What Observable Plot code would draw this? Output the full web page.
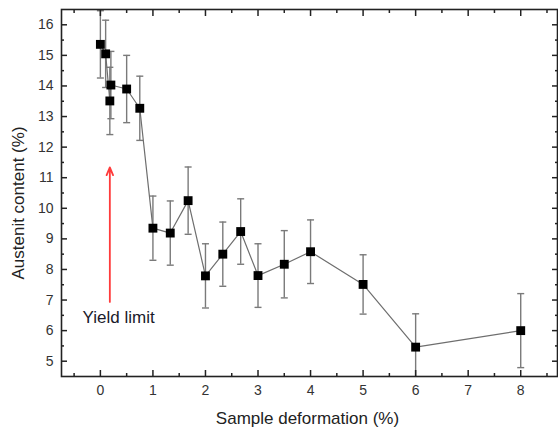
<!DOCTYPE html>
<html><head><meta charset="utf-8">
<script src="https://cdn.jsdelivr.net/npm/d3@7"></script>
<script src="https://cdn.jsdelivr.net/npm/@observablehq/plot@0.6"></script>
<style>body{margin:0;background:#fff}#chart{width:558px;height:430px}</style>
</head><body><div id="chart"></div>
<script>
const deformation = [0, 0.1, 0.18, 0.2, 0.5, 0.75, 1, 1.33, 1.67, 2, 2.33, 2.67, 3, 3.5, 4, 5, 6, 8];
const austenite   = [15.36, 15.05, 13.51, 14.03, 13.9, 13.27, 9.35, 9.19, 10.25, 7.79, 8.5, 9.24, 7.8, 8.17, 8.58, 7.51, 5.46, 6.0];
const errors      = [1.1, 1.1, 1.1, 1.1, 1.1, 1.05, 1.05, 1.05, 1.1, 1.05, 1.05, 1.07, 1.04, 1.1, 1.04, 0.97, 1.09, 1.21];
const xTicks = [0, 1, 2, 3, 4, 5, 6, 7, 8];
const xMinorTicks = [-0.5, 0.5, 1.5, 2.5, 3.5, 4.5, 5.5, 6.5, 7.5, 8.5];
const yTicks = [5, 6, 7, 8, 9, 10, 11, 12, 13, 14, 15, 16];
const yMinorTicks = [5.5, 6.5, 7.5, 8.5, 9.5, 10.5, 11.5, 12.5, 13.5, 14.5, 15.5];
const yieldLabel = ["Yield limit"];
const yieldX = [0.18];
const yieldArrowFrom = [6.94];
const yieldArrowTo = [11.34];
const yieldLabelX = [-0.34];
const yieldLabelY = [6.44];
const xTitle = "Sample deformation (%)";
const yTitle = "Austenit content (%)";

const rows = deformation.map((d, i) => ({x: d, y: austenite[i], lo: austenite[i] - errors[i], hi: austenite[i] + errors[i]}));
const caps = rows.flatMap(r => [{x: r.x, y: r.lo}, {x: r.x, y: r.hi}]);
const capSymbol = {draw(ctx) { ctx.moveTo(-3.5, 0); ctx.lineTo(3.5, 0); }};
const annot = yieldX.map((x, i) => ({x, y1: yieldArrowFrom[i], y2: yieldArrowTo[i]}));
const labelRows = yieldLabel.map((t, i) => ({t, x: yieldLabelX[i], y: yieldLabelY[i]}));
const ink = "#222";

const chart = Plot.plot({
  width: 558, height: 430,
  marginLeft: 61, marginRight: 1, marginTop: 9, marginBottom: 54,
  style: {fontFamily: "'Liberation Sans', Arial, sans-serif", background: "#fff", overflow: "visible"},
  x: {domain: [-0.74, 8.7], axis: null},
  y: {domain: [4.5, 16.5], axis: null},
  marks: [
    Plot.ruleX(rows, {x: "x", y1: "lo", y2: "hi", stroke: "#7a7a7a", strokeWidth: 1.4, clip: true}),
    Plot.dot(caps, {x: "x", y: "y", symbol: capSymbol, stroke: "#7a7a7a", strokeWidth: 1.4, clip: true}),
    Plot.line(rows, {x: "x", y: "y", stroke: "#6e6e6e", strokeWidth: 1.2}),
    Plot.dot(rows, {x: "x", y: "y", symbol: "square", r: 5, fill: "#000", stroke: "none"}),
    Plot.arrow(annot, {x1: "x", x2: "x", y1: "y1", y2: "y2", stroke: "#ff3b3b", strokeWidth: 1.8, headLength: 7, headAngle: 45}),
    Plot.text(labelRows, {x: "x", y: "y", text: "t", textAnchor: "start", fontSize: 17, fill: "#1a1a2a"}),
    // tick labels
    Plot.axisX(xTicks, {anchor: "bottom", tickSize: 0, tickPadding: 9, fontSize: 14, fill: "#333", label: null}),
    Plot.axisY(yTicks, {anchor: "left", tickSize: 0, tickPadding: 8, fontSize: 14, fill: "#333", label: null}),
    // inward ticks
    Plot.axisX(xTicks, {anchor: "bottom", tickSize: 6, dy: -6, fill: "none", label: null, stroke: ink, strokeWidth: 1.5}),
    Plot.axisX(xMinorTicks, {anchor: "bottom", tickSize: 3, dy: -3, fill: "none", label: null, stroke: ink, strokeWidth: 1.5}),
    Plot.axisX(xTicks, {anchor: "top", tickSize: 6, dy: 6, fill: "none", label: null, stroke: ink, strokeWidth: 1.5}),
    Plot.axisX(xMinorTicks, {anchor: "top", tickSize: 3, dy: 3, fill: "none", label: null, stroke: ink, strokeWidth: 1.5}),
    Plot.axisY(yTicks, {anchor: "left", tickSize: 6, dx: 6, fill: "none", label: null, stroke: ink, strokeWidth: 1.5}),
    Plot.axisY(yMinorTicks, {anchor: "left", tickSize: 3, dx: 3, fill: "none", label: null, stroke: ink, strokeWidth: 1.5}),
    Plot.axisY(yTicks, {anchor: "right", tickSize: 6, dx: -6, fill: "none", label: null, stroke: ink, strokeWidth: 1.5}),
    Plot.axisY(yMinorTicks, {anchor: "right", tickSize: 3, dx: -3, fill: "none", label: null, stroke: ink, strokeWidth: 1.5}),
    Plot.frame({stroke: ink, strokeWidth: 1.6}),
    // axis titles
    Plot.text([xTitle], {frameAnchor: "bottom", dx: -2, dy: 42, fontSize: 17, fill: "#222", lineAnchor: "middle"}),
    Plot.text([yTitle], {frameAnchor: "left", textAnchor: "middle", rotate: -90, dx: -43, dy: 10, fontSize: 17, fill: "#222", lineAnchor: "middle"})
  ]
});
document.getElementById("chart").appendChild(chart);
</script>
</body></html>
